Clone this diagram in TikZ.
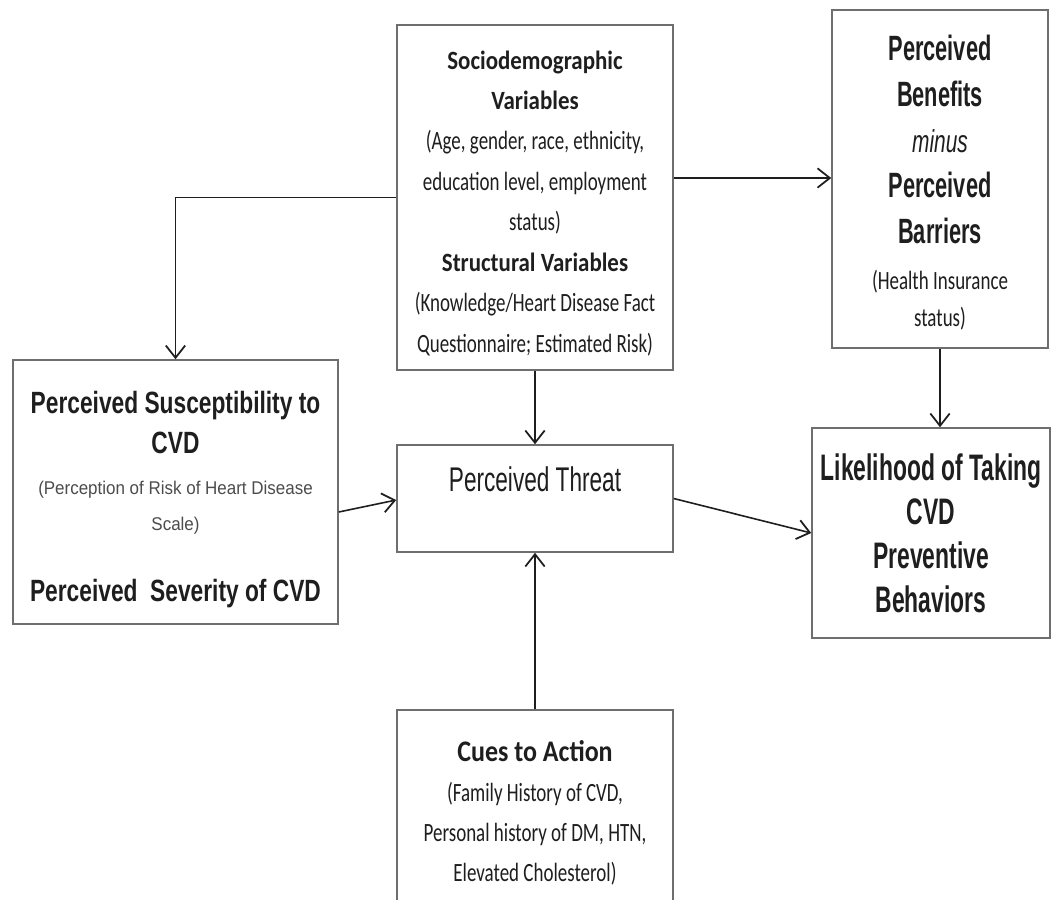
\documentclass[tikz,border=0pt]{standalone}
\usepackage{fontspec}
\usetikzlibrary{arrows.meta}
\newfontfamily\calfont[FakeStretch=0.72]{Carlito}
\newfontfamily\calbfont[FakeStretch=0.87]{Carlito}
\newfontfamily\susfont[FakeStretch=0.74]{Liberation Sans}
\newfontfamily\likfont[FakeStretch=0.62]{Liberation Sans}
\newfontfamily\thrfont[FakeStretch=0.66]{Liberation Sans}
\newfontfamily\parfont[FakeStretch=0.92]{Liberation Sans}
\definecolor{ink}{HTML}{1E1E1E}
\definecolor{rim}{HTML}{6E6E6E}

\begin{document}
\begin{tikzpicture}[x=0.02cm,y=-0.02cm,
  box/.style={draw=rim,line width=0.9pt,fill=white,align=center,inner sep=0pt,text=ink},
  arr/.style={draw=ink,line width=0.9pt,-{Straight Barb[length=7pt,width=11pt,line width=1pt]}}]
\clip (0,0) rectangle (1053,899);
\fill[white] (0,0) rectangle (1053,899);

% boxes
\node[box,minimum width=5.52cm,minimum height=6.9cm,
  font=\calbfont\bfseries\fontsize{15}{23}\selectfont] (socio) at (535,197.5)
  {\rule{0pt}{17pt}Sociodemographic\\Variables\\
   {\calfont\mdseries\fontsize{15}{23}\selectfont (Age, gender, race, ethnicity,}\\
   {\calfont\mdseries\fontsize{15}{23}\selectfont education level, employment}\\
   {\calfont\mdseries\fontsize{15}{23}\selectfont status)}\\
   Structural Variables\\
   {\calfont\mdseries\fontsize{15}{23}\selectfont (Knowledge/Heart Disease Fact}\\
   {\calfont\mdseries\fontsize{15}{23}\selectfont Questionnaire; Estimated Risk)}};
\node[box,minimum width=4.32cm,minimum height=6.76cm,
  font=\likfont\bfseries\fontsize{20}{26}\selectfont] (benef) at (940,179)
  {\rule{0pt}{19pt}Perceived\\Benefits\\
   {\thrfont\mdseries\itshape\fontsize{18}{26}\selectfont minus}\\
   Perceived\\Barriers\\
   {\calfont\mdseries\fontsize{15}{26}\selectfont (Health Insurance}\\[-4.5pt]
   {\calfont\mdseries\fontsize{15}{26}\selectfont status)}};
\node[box,minimum width=6.5cm,minimum height=5.28cm,
  font=\susfont\bfseries\fontsize{17.5}{23.2}\selectfont] (susc) at (175.5,492)
  {\rule{0pt}{21pt}Perceived Susceptibility to\\CVD\\
   {\parfont\mdseries\color{black!70}\fontsize{10.5}{23}\selectfont (Perception of Risk of Heart Disease}\\[-3pt]
   {\parfont\mdseries\color{black!70}\fontsize{10.5}{23}\selectfont Scale)}\\[17.5pt]
   Perceived\ \ Severity of CVD};
\node[box,minimum width=5.52cm,minimum height=2.14cm,
  font=\thrfont\fontsize{19.5}{22}\selectfont] (threat) at (535,498.5)
  {Perceived Threat\\\mbox{}};
\node[box,minimum width=4.76cm,minimum height=4.2cm,
  font=\likfont\bfseries\fontsize{21}{25}\selectfont] (like) at (931,533)
  {Likelihood of Taking\\CVD\\Preventive\\Behaviors};
\node[box,minimum width=5.52cm,minimum height=4.12cm,
  font=\calbfont\bfseries\fontsize{17}{22.7}\selectfont] (cues) at (535,813)
  {Cues to Action\\
   {\calfont\mdseries\fontsize{15}{22.7}\selectfont (Family History of CVD,}\\
   {\calfont\mdseries\fontsize{15}{22.7}\selectfont Personal history of DM, HTN,}\\
   {\calfont\mdseries\fontsize{15}{22.7}\selectfont Elevated Cholesterol)}};

% connectors
\coordinate (sb) at ([yshift=0.39cm]socio.east);
\coordinate (se) at ([yshift=-0.4cm]susc.east);
\draw[arr] (socio.west) -| (susc.north);
\draw[arr] (sb) -- (sb -| benef.west);
\draw[arr] (socio.south) -- (threat.north);
\draw[arr] (benef.south) -- (benef.south |- like.north);
\draw[arr] (se) -- ([yshift=-0.03cm]threat.west);
\draw[arr] (threat.east) -- (like.west);
\draw[arr] (cues.north) -- (threat.south);
\end{tikzpicture}
\end{document}
